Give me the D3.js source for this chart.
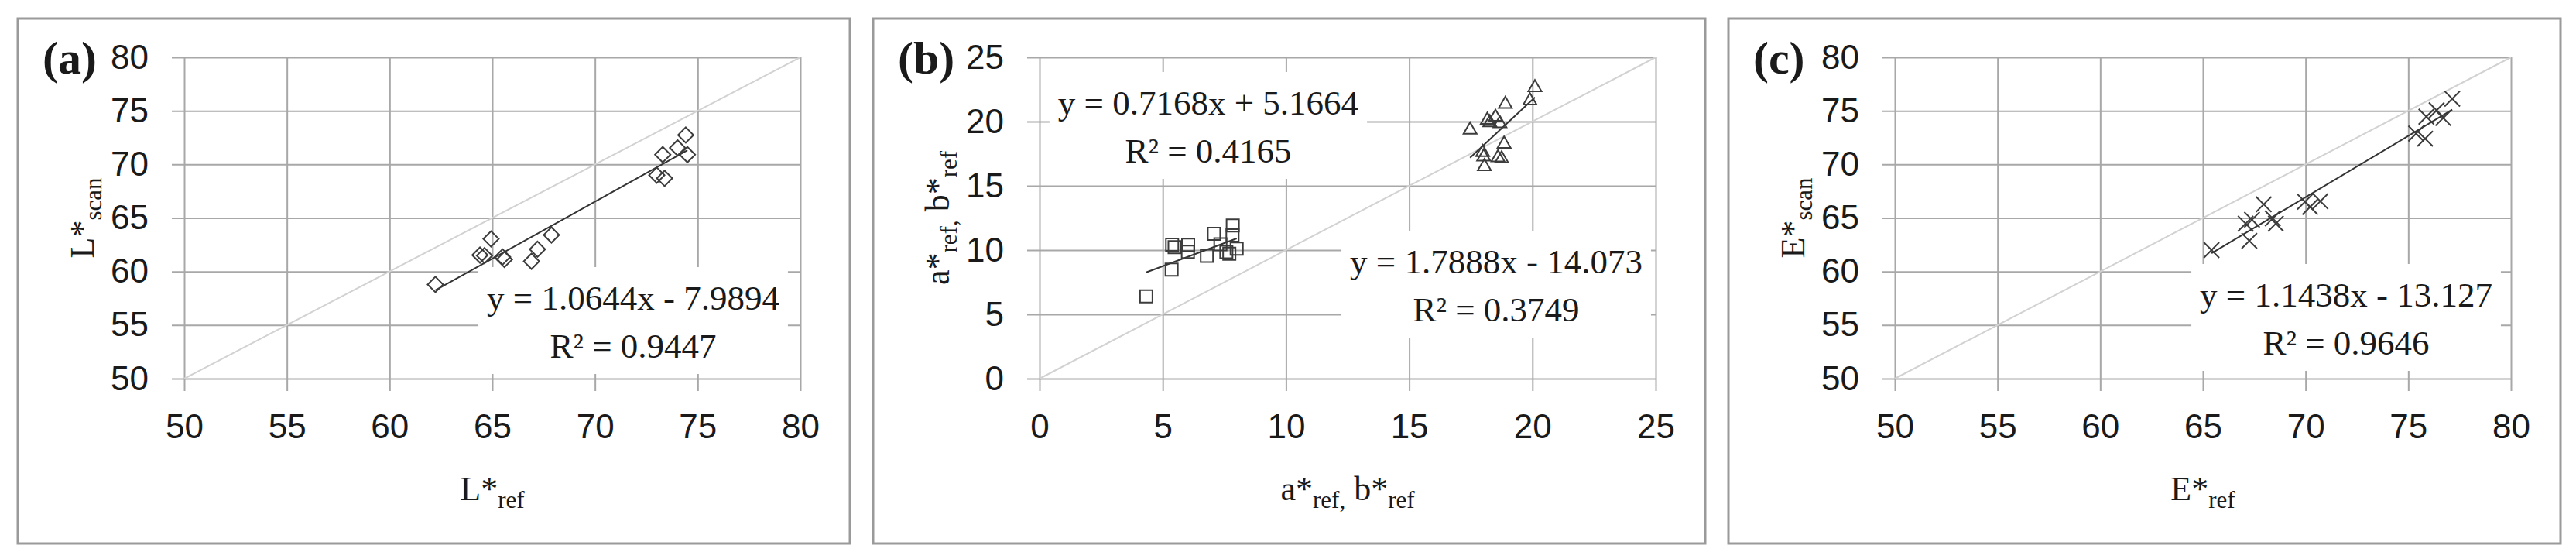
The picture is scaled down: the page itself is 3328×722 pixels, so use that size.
<!DOCTYPE html>
<html>
<head>
<meta charset="utf-8">
<script src="https://cdn.jsdelivr.net/npm/d3@7"></script>
<style>
    body { margin: 0; background: #fff; }
    svg { display: block; font-family: "Liberation Serif", "DejaVu Serif", serif; }
</style>
</head>
<body>
<svg id="chart" width="3328" height="722"></svg>
<script>
// (a) lightness
var lRef = [62.23, 64.40, 64.62, 64.94, 65.50, 65.59, 66.91, 67.20, 67.88, 73.01, 73.39, 73.30, 74.02, 74.42, 74.50];
var lScan = [58.79, 61.53, 61.48, 63.04, 61.36, 61.12, 60.95, 62.08, 63.41, 68.99, 68.70, 70.91, 71.54, 72.74, 70.91];
// (b) a* (squares) and b* (triangles)
var aRef = [4.33, 5.36, 5.38, 5.48, 6.03, 6.02, 6.79, 7.08, 7.34, 7.84, 7.83, 7.70, 8.00, 7.58];
var aScan = [6.40, 8.48, 10.42, 10.22, 10.41, 9.86, 9.55, 11.26, 10.45, 11.92, 11.15, 9.72, 10.10, 9.85];
var bRef = [17.47, 17.98, 18.05, 18.02, 18.17, 18.27, 18.50, 18.68, 18.90, 18.85, 18.60, 18.75, 19.90, 20.10];
var bScan = [19.35, 17.60, 16.50, 17.25, 20.12, 19.92, 20.35, 19.85, 21.35, 18.25, 17.20, 17.10, 21.62, 22.65];
// (c) E*
var eRef = [65.42, 67.08, 67.39, 67.26, 67.96, 68.40, 68.55, 69.97, 70.22, 70.72, 75.38, 75.82, 75.88, 76.38, 76.70, 77.14];
var eScan = [62.00, 64.47, 64.83, 62.86, 66.27, 64.95, 64.47, 66.51, 66.03, 66.56, 72.88, 72.40, 74.45, 75.05, 74.33, 76.13];
// linear fits [slope, intercept] and R²
var lFit = [1.0644, -7.9894], lR2 = 0.9447;
var aFit = [0.7168, 5.1664], aR2 = 0.4165;
var bFit = [1.7888, -14.073], bR2 = 0.3749;
var eFit = [1.1438, -13.127], eR2 = 0.9646;
// axis ticks
var ticks5080 = [50, 55, 60, 65, 70, 75, 80];
var ticks025 = [0, 5, 10, 15, 20, 25];

var svg = d3.select('#chart');
var PANEL_STEP = 1105, FRAME_X = 23, FRAME_Y = 24, FRAME_W = 1075, FRAME_H = 678;
var PLOT_DX = 215, PLOT_Y = 74, W = 796, H = 415, TICK = 16;
var INK = '#1a1a1a', MARK = '#3c3c3c';

function fmtEq(fit) {
    var sign = fit[1] < 0 ? ' - ' : ' + ';
    return 'y = ' + fit[0] + 'x' + sign + Math.abs(fit[1]);
}

// title like L*<sub>scan</sub>, parts = [[text, isSub], ...]
function addTitle(t, parts) {
    var down = false;
    parts.forEach(function (p) {
        var ts = t.append('tspan').text(p[0]);
        if (p[1] && !down) { ts.attr('dy', 10).attr('font-size', 31); down = true; }
        else if (p[1]) { ts.attr('font-size', 31); }
        else if (down) { ts.attr('dy', -10); down = false; }
    });
}

function drawPanel(idx, cfg) {
    var fx = FRAME_X + idx * PANEL_STEP;
    svg.append('rect')
        .attr('x', fx).attr('y', FRAME_Y)
        .attr('width', FRAME_W).attr('height', FRAME_H)
        .attr('fill', 'none').attr('stroke', '#9a9a9a').attr('stroke-width', 3);

    var g = svg.append('g').attr('transform', 'translate(' + (fx + PLOT_DX) + ',' + PLOT_Y + ')');
    var x = d3.scaleLinear().domain(cfg.domain).range([0, W]);
    var y = d3.scaleLinear().domain(cfg.domain).range([H, 0]);

    // Gridlines + tick labels
    var gy = g.append('g').attr('transform', 'translate(' + (-TICK) + ',0)')
        .call(d3.axisLeft(y).tickValues(cfg.ticks).tickSize(-(W + TICK)).tickPadding(30));
    var gx = g.append('g').attr('transform', 'translate(0,' + (H + TICK) + ')')
        .call(d3.axisBottom(x).tickValues(cfg.ticks).tickSize(-(H + TICK)).tickPadding(30));
    [gy, gx].forEach(function (ax) {
        ax.select('.domain').remove();
        ax.selectAll('line').attr('stroke', '#a8a8a8').attr('stroke-width', 2);
        ax.selectAll('text').attr('fill', INK).attr('font-size', 44);
    });

    // 1:1 line
    g.append('line')
        .attr('x1', x(cfg.domain[0])).attr('y1', y(cfg.domain[0]))
        .attr('x2', x(cfg.domain[1])).attr('y2', y(cfg.domain[1]))
        .attr('stroke', '#d2d2d2').attr('stroke-width', 2);

    // Equation labels (white boxes hide the grid)
    cfg.series.forEach(function (s) {
        var lab = g.append('g');
        var box = lab.append('rect').attr('fill', '#fff');
        var t1 = lab.append('text').attr('x', s.label[0]).attr('y', s.label[1])
            .attr('text-anchor', 'middle').attr('font-size', 45).attr('fill', INK)
            .text(fmtEq(s.fit));
        var t2 = lab.append('text').attr('x', s.label[0]).attr('y', s.label[1] + 62)
            .attr('text-anchor', 'middle').attr('font-size', 45).attr('fill', INK)
            .text('R\u00b2 = ' + s.r2);
        var tw = Math.max(t1.node().getComputedTextLength(), t2.node().getComputedTextLength());
        box.attr('x', s.label[0] - tw / 2 - 11).attr('width', tw + 22)
            .attr('y', s.label[1] - 55).attr('height', 62 + 76);
    });

    // Trendlines and markers
    cfg.series.forEach(function (s) {
        var ext = d3.extent(s.xs);
        g.append('line')
            .attr('x1', x(ext[0])).attr('y1', y(s.fit[0] * ext[0] + s.fit[1]))
            .attr('x2', x(ext[1])).attr('y2', y(s.fit[0] * ext[1] + s.fit[1]))
            .attr('stroke', '#333').attr('stroke-width', 2);
        var sym = d3.symbol().type(s.shape).size(s.size);
        g.append('g').selectAll('path')
            .data(s.xs)
            .enter()
            .append('path')
            .attr('d', sym)
            .attr('transform', function (d, i) {
                return 'translate(' + x(d) + ',' + y(s.ys[i]) + ')' + (s.rotate ? ' rotate(45)' : '');
            })
            .attr('fill', 'none').attr('stroke', MARK).attr('stroke-width', 2);
    });

    // Axis titles
    var yt = g.append('text')
        .attr('transform', 'translate(-117,' + (H / 2) + ') rotate(-90)')
        .attr('text-anchor', 'middle').attr('font-size', 44).attr('fill', INK);
    addTitle(yt, cfg.yTitle);
    var xt = g.append('text')
        .attr('x', W / 2).attr('y', 572)
        .attr('text-anchor', 'middle').attr('font-size', 44).attr('fill', INK);
    addTitle(xt, cfg.xTitle);

    // Panel letter
    svg.append('text')
        .attr('x', fx + 32).attr('y', 95)
        .attr('font-size', 60).attr('font-weight', 'bold').attr('fill', INK)
        .text(cfg.letter);
}

drawPanel(0, {
    letter: '(a)', domain: [50, 80], ticks: ticks5080,
    yTitle: [['L*', false], ['scan', true]],
    xTitle: [['L*', false], ['ref', true]],
    series: [{ xs: lRef, ys: lScan, fit: lFit, r2: lR2, shape: d3.symbolSquare, size: 200, rotate: true, label: [580, 326] }]
});
drawPanel(1, {
    letter: '(b)', domain: [0, 25], ticks: ticks025,
    yTitle: [['a*', false], ['ref,', true], [' b*', false], ['ref', true]],
    xTitle: [['a*', false], ['ref,', true], [' b*', false], ['ref', true]],
    series: [
        { xs: aRef, ys: aScan, fit: aFit, r2: aR2, shape: d3.symbolSquare, size: 256, label: [218, 74] },
        { xs: bRef, ys: bScan, fit: bFit, r2: bR2, shape: d3.symbolTriangle, size: 125, label: [590, 279] }
    ]
});
drawPanel(2, {
    letter: '(c)', domain: [50, 80], ticks: ticks5080,
    yTitle: [['E*', false], ['scan', true]],
    xTitle: [['E*', false], ['ref', true]],
    series: [{ xs: eRef, ys: eScan, fit: eFit, r2: eR2, shape: d3.symbolX, size: 260, label: [583, 322] }]
});
</script>
</body>
</html>
